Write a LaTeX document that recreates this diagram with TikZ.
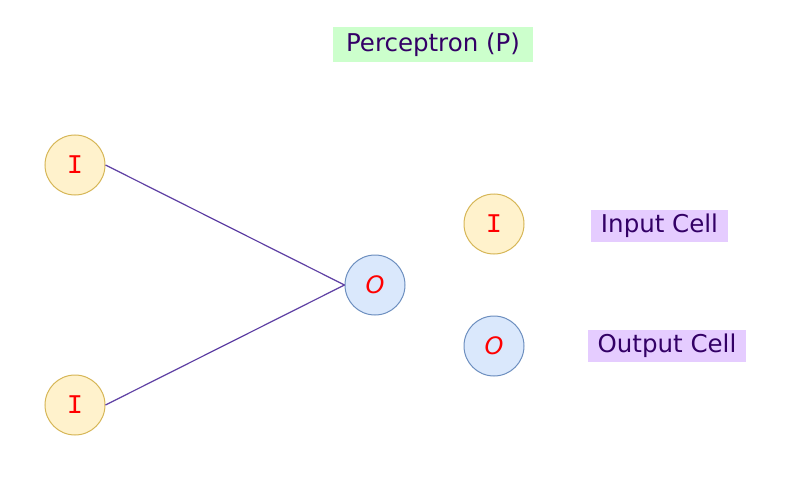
\documentclass[tikz,border=0pt]{standalone}
\usepackage{fontspec}
\setmainfont{DejaVu Sans}
\newfontfamily\cellfont{Liberation Mono}
\definecolor{infill}{HTML}{FFF2CC}
\definecolor{indraw}{HTML}{D6B656}
\definecolor{outfill}{HTML}{DAE8FC}
\definecolor{outdraw}{HTML}{6C8EBF}
\definecolor{edgec}{HTML}{5E3FA3}
\definecolor{labtext}{HTML}{330066}
\definecolor{titlebg}{HTML}{CCFFCC}
\definecolor{legbg}{HTML}{E5CCFF}
\tikzset{
  incell/.style={circle, draw=indraw, fill=infill, line width=1pt, minimum size=60pt, inner sep=0pt,
    text=red, font=\cellfont\fontsize{27}{27}\selectfont},
  outcell/.style={circle, draw=outdraw, fill=outfill, line width=1pt, minimum size=60pt, inner sep=0pt,
    text=red, font=\fontsize{24}{24}\selectfont\itshape},
  edge/.style={draw=edgec, line width=1.2pt},
  lab/.style={text=labtext, inner sep=0pt, font=\fontsize{24.5}{24.5}\selectfont},
}
\begin{document}
\begin{tikzpicture}[x=1pt,y=-1pt]
\useasboundingbox (0,0) rectangle (812,495);
\node[lab, fill=titlebg, minimum width=200pt, minimum height=35pt] (title) at (433,45) {Perceptron (P)};
\node[incell] (i1) at (75,165) {I};
\node[incell] (i2) at (75,405) {I};
\node[outcell] (o) at (375,285) {O};
\draw[edge] (i1.east) -- (o.west);
\draw[edge] (i2.east) -- (o.west);
\node[incell] (li) at (494,224) {I};
\node[outcell] (lo) at (494,346) {O};
\node[lab, fill=legbg, minimum width=137pt, minimum height=32pt] (lit) at (659.5,226) {Input Cell};
\node[lab, fill=legbg, minimum width=158pt, minimum height=32pt] (lot) at (667,346) {Output Cell};
\end{tikzpicture}
\end{document}
